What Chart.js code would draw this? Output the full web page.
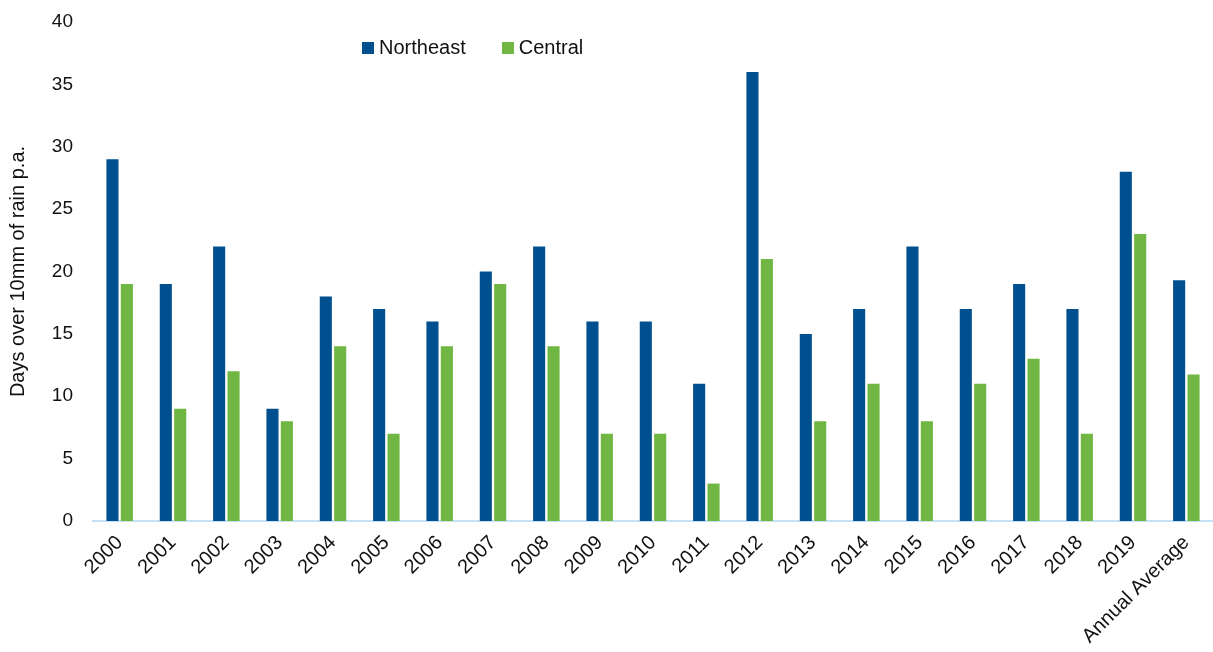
<!DOCTYPE html>
<html>
<head>
<meta charset="utf-8">
<script src="https://cdn.jsdelivr.net/npm/chart.js@4/dist/chart.umd.min.js"></script>
<style>
  html, body { margin: 0; padding: 0; background: #fff; }
  #wrap { position: relative; width: 1213px; height: 652px; }
  #legend {
    position: absolute; left: 362px; top: 36px;
    font-family: "Liberation Sans", Arial, sans-serif; font-size: 20px; color: #111;
    display: flex; align-items: center;
  }
  .item { display: flex; align-items: center; margin-right: 36px; }
  .swatch { width: 12px; height: 12px; margin-right: 5px; }
</style>
</head>
<body>
<div id="wrap">
  <canvas id="rainChart" width="1213" height="652"></canvas>
  <div id="legend"></div>
</div>
<script>
// --- Data ---
const years = ['2000', '2001', '2002', '2003', '2004', '2005', '2006', '2007', '2008', '2009',
               '2010', '2011', '2012', '2013', '2014', '2015', '2016', '2017', '2018', '2019',
               'Annual Average'];
const northeast = [29, 19, 22, 9, 18, 17, 16, 20, 22, 16, 16, 11, 36, 15, 17, 22, 17, 19, 17, 28, 19.3];
const central = [19, 9, 12, 8, 14, 7, 14, 19, 14, 7, 7, 3, 21, 8, 11, 8, 11, 13, 7, 23, 11.75];
const yTicks = [0, 5, 10, 15, 20, 25, 30, 35, 40];

const BLUE = '#00508f';
const GREEN = '#6fb643';
const FONT = "'Liberation Sans', Arial, sans-serif";

// --- Legend (sits inside the plot area, near the top) ---
const legendEl = document.getElementById('legend');
[['Northeast', BLUE], ['Central', GREEN]].forEach(([name, color]) => {
    const item = document.createElement('div');
    item.className = 'item';
    item.innerHTML = `<span class="swatch" style="background:${color}"></span>${name}`;
    legendEl.appendChild(item);
});

// --- Chart ---
Chart.defaults.font.family = FONT;
Chart.defaults.color = '#111';

const ctx = document.getElementById('rainChart').getContext('2d');
new Chart(ctx, {
    type: 'bar',
    data: {
        labels: years,
        datasets: [
            { label: 'Northeast', data: northeast, backgroundColor: BLUE },
            { label: 'Central', data: central, backgroundColor: GREEN }
        ]
    },
    options: {
        responsive: false,
        animation: false,
        datasets: {
            bar: { categoryPercentage: 0.54, barPercentage: 0.84 }
        },
        layout: { padding: { top: 22, right: 0, bottom: 0, left: 0 } },
        plugins: {
            legend: { display: false },
            tooltip: { enabled: false }
        },
        scales: {
            x: {
                grid: { display: false },
                border: { display: true, color: '#c6e1f6', width: 2 },
                ticks: {
                    font: { size: 20 },
                    color: '#111',
                    minRotation: 45,
                    maxRotation: 45,
                    autoSkip: false,
                    padding: 2
                },
                afterFit: (scale) => { scale.height = 131; }
            },
            y: {
                min: 0,
                max: 40,
                grid: { display: false },
                border: { display: false },
                afterBuildTicks: (scale) => { scale.ticks = yTicks.map(v => ({ value: v })); },
                ticks: { font: { size: 19 }, color: '#111', padding: 12 },
                title: {
                    display: true,
                    text: 'Days over 10mm of rain p.a.',
                    font: { size: 20 },
                    color: '#111',
                    padding: { top: 6, bottom: 0 }
                },
                afterFit: (scale) => {
                    scale.width = 93;
                    scale.paddingTop = 0;
                    scale.paddingBottom = 0;
                }
            }
        }
    }
});
</script>
</body>
</html>
